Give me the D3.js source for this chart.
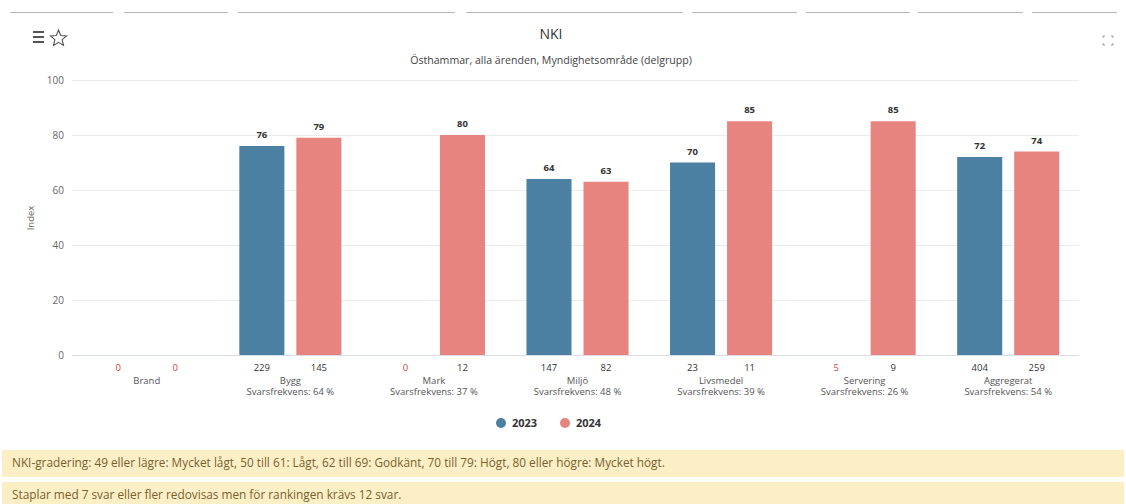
<!DOCTYPE html>
<html>
<head>
<meta charset="utf-8">
<script src="https://cdn.jsdelivr.net/npm/d3@7"></script>
<style>
  html, body { margin: 0; padding: 0; background: #fff; }
  body { width: 1126px; height: 504px; overflow: hidden; font-family: "Open Sans", "Noto Sans", sans-serif; }
</style>
</head>
<body>
<svg id="chart" width="1126" height="504"></svg>
<script>
const categories = ["Brand", "Bygg", "Mark", "Miljö", "Livsmedel", "Servering", "Aggregerat"];
const subLabels = ["", "Svarsfrekvens: 64 %", "Svarsfrekvens: 37 %", "Svarsfrekvens: 48 %", "Svarsfrekvens: 39 %", "Svarsfrekvens: 26 %", "Svarsfrekvens: 54 %"];
const years = ["2023", "2024"];
const values2023 = [null, 76, null, 64, 70, null, 72];
const values2024 = [null, 79, 80, 63, 85, 85, 74];
const counts2023 = [0, 229, 0, 147, 23, 5, 404];
const counts2024 = [0, 145, 12, 82, 11, 9, 259];
const yTicks = [0, 20, 40, 60, 80, 100];
const title = "NKI";
const subtitle = "Östhammar, alla ärenden, Myndighetsområde (delgrupp)";
const yTitle = "Index";
const notes = [
  "NKI-gradering: 49 eller lägre: Mycket lågt, 50 till 61: Lågt, 62 till 69: Godkänt, 70 till 79: Högt, 80 eller högre: Mycket högt.",
  "Staplar med 7 svar eller fler redovisas men för rankingen krävs 12 svar."
];
const minAnswers = 7;

const colors = { "2023": "#4c80a3", "2024": "#e8847f" };
const seriesValues = { "2023": values2023, "2024": values2024 };
const seriesCounts = { "2023": counts2023, "2024": counts2024 };

const svg = d3.select("#chart");

// top tab lines
const tabSegs = [[10,113],[124,228],[238,455],[466,683],[692,797],[806,910],[918,1023],[1032,1117]];
svg.selectAll("line.tab").data(tabSegs).join("line")
  .attr("x1", d => d[0]).attr("x2", d => d[1]).attr("y1", 12.5).attr("y2", 12.5)
  .attr("stroke", "#b8b8b8").attr("stroke-width", 1);

// icons
const ham = svg.append("g").attr("stroke", "#555").attr("stroke-width", 2);
[32, 37, 42].forEach(y => ham.append("line").attr("x1", 33).attr("x2", 44).attr("y1", y).attr("y2", y));
const star = d3.range(10).map(i => {
  const a = -Math.PI / 2 + i * Math.PI / 5;
  const r = i % 2 === 0 ? 8.5 : 3.8;
  return [58.5 + r * Math.cos(a), 38.5 + r * Math.sin(a)];
});
svg.append("path").attr("d", "M" + star.join("L") + "Z").attr("fill", "none").attr("stroke", "#555").attr("stroke-width", 1.1);
const fs = svg.append("g").attr("stroke", "#999").attr("stroke-width", 1).attr("fill", "none");
[[1103,36,1,1],[1113,36,-1,1],[1103,45,1,-1],[1113,45,-1,-1]].forEach(([x,y,dx,dy]) => {
  fs.append("path").attr("d", `M${x+2*dx},${y}L${x},${y}L${x},${y+2*dy}`);
});

// titles
svg.append("text").attr("x", 551).attr("y", 39).attr("text-anchor", "middle")
  .attr("font-size", 14).attr("fill", "#333").text(title);
svg.append("text").attr("x", 551).attr("y", 64).attr("text-anchor", "middle")
  .attr("font-size", 10.6).attr("fill", "#444").text(subtitle);

// scales
const y = d3.scaleLinear().domain([0, 100]).range([355, 80]);
const x0 = d3.scaleBand().domain(categories).range([75, 1080]).paddingInner(0.289).paddingOuter(0.1445);
const x1 = d3.scaleBand().domain(years).range([0, x0.bandwidth()]).paddingInner(0.21).paddingOuter(0);

// grid
svg.append("g").selectAll("line").data(yTicks).join("line")
  .attr("x1", 72).attr("x2", 1079)
  .attr("y1", d => Math.round(y(d)) + 0.5).attr("y2", d => Math.round(y(d)) + 0.5)
  .attr("stroke", d => d === 0 ? "#d8dde6" : "#ececec").attr("stroke-width", 1);

// y axis labels
const yAxis = d3.axisLeft(y).tickValues(yTicks).tickSize(0).tickPadding(0);
const yg = svg.append("g").attr("transform", "translate(64,0)").call(yAxis);
yg.select(".domain").remove();
yg.selectAll("text").attr("font-size", 10).attr("fill", "#666").attr("font-family", "Open Sans, sans-serif").attr("dy", "0.32em");

svg.append("text").attr("transform", "translate(34,218) rotate(-90)").attr("text-anchor", "middle")
  .attr("font-size", 9.5).attr("fill", "#666").text(yTitle);

// bars
const groups = svg.append("g").selectAll("g").data(categories).join("g")
  .attr("transform", d => `translate(${x0(d)},0)`);

years.forEach(yr => {
  groups.each(function(cat, i) {
    const v = seriesValues[yr][i];
    const g = d3.select(this);
    if (v !== null) {
      g.append("rect").attr("x", x1(yr)).attr("width", x1.bandwidth())
        .attr("y", y(v)).attr("height", y(0) - y(v)).attr("fill", colors[yr]);
      g.append("text").attr("x", x1(yr) + x1.bandwidth() / 2).attr("y", y(v) - 8)
        .attr("text-anchor", "middle").attr("font-size", 9.5).attr("font-weight", "bold")
        .attr("fill", "#333").text(v);
    }
    const c = seriesCounts[yr][i];
    g.append("text").attr("x", x1(yr) + x1.bandwidth() / 2).attr("y", 371)
      .attr("text-anchor", "middle").attr("font-size", 9.5)
      .attr("fill", c < minAnswers ? "#d0453c" : "#333").text(c);
  });
});

// category labels
groups.append("text").attr("x", x0.bandwidth() / 2).attr("y", 384)
  .attr("text-anchor", "middle").attr("font-size", 9.5).attr("fill", "#555").text(d => d);
groups.append("text").attr("x", x0.bandwidth() / 2).attr("y", 395)
  .attr("text-anchor", "middle").attr("font-size", 9.5).attr("fill", "#555").text((d, i) => subLabels[i]);

// legend
const legend = svg.append("g");
const legPos = { "2023": 501, "2024": 565 };
years.forEach(yr => {
  legend.append("circle").attr("cx", legPos[yr]).attr("cy", 423).attr("r", 5).attr("fill", colors[yr]);
  legend.append("text").attr("x", legPos[yr] + 11).attr("y", 427).attr("font-size", 11).attr("font-weight", "bold")
    .attr("fill", "#333").text(yr);
});

// notes
const noteY = [450, 482];
notes.forEach((t, i) => {
  svg.append("rect").attr("x", 2).attr("y", noteY[i]).attr("width", 1122).attr("height", 27).attr("fill", "#fcefc6");
  svg.append("text").attr("x", 12).attr("y", noteY[i] + 17).attr("font-size", 11.8).attr("fill", "#7a5f2e").text(t);
});
</script>
</body>
</html>
